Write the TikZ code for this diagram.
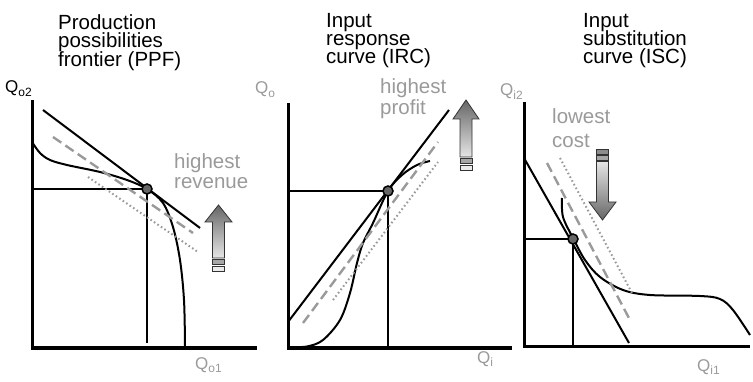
\documentclass[tikz,border=0pt]{standalone}
\usepackage{fontspec}
\setmainfont{Liberation Sans}
\definecolor{lgray}{HTML}{9A9A9A}
\newcommand{\qsub}[1]{\raisebox{-3.5pt}{\fontsize{12}{12}\selectfont #1}}
\begin{document}
\lineskiplimit=-20pt
\begin{tikzpicture}[x=1pt,y=-1pt,
  axis/.style={line width=3pt},
  curve/.style={line width=2pt},
  tangent/.style={line width=2pt},
  dashline/.style={line width=2.4pt, color=lgray, dash pattern=on 10pt off 5pt},
  dotline/.style={line width=2pt, color=lgray, dash pattern=on 1.6pt off 2.6pt},
  guide/.style={line width=2.5pt},
  pt/.style={circle, minimum size=10pt, inner sep=0pt, draw=black, line width=1.5pt, fill=black!60},
  title/.style={font=\fontsize{20.5}{18.4}\selectfont, align=left, anchor=north west, inner sep=0pt},
  glabel/.style={font=\fontsize{20.5}{20.5}\selectfont, text=lgray, align=left, anchor=north west, inner sep=0pt},
  qlab/.style={font=\fontsize{17}{17}\selectfont, anchor=base west, inner sep=0pt},
  arrowbody/.style={draw=black!80, line width=0.8pt},
  bar/.style={draw=black!80, line width=0.8pt}
]
\useasboundingbox (0,0) rectangle (753,382);

% ---------- Panel 1: PPF ----------
\coordinate (y1) at (32,100);
\coordinate (o1) at (32,348);
\coordinate (x1) at (257,348);
\coordinate (c1) at (147,189);
\draw[axis] (y1) -- (o1) -- (x1);
\draw[guide] (32,189) -- (c1) -- (147,343);
\draw[curve] plot[smooth, tension=0.55] coordinates {(32,142) (40,153) (50,160) (67,165) (100,172) (127,180) (147,189) (163,203) (173,227) (180,260) (184,300) (185,346)};
\draw[tangent] (43,110) -- (200,228);
\draw[dashline] (53,137) -- (193,233);
\draw[dotline] (88,177) -- (198,252);
\node[pt] (p1) at (c1) {};
\shadedraw[arrowbody, top color=black!60, bottom color=black!10] (212.5,258) -- (212.5,222) -- (205,222) -- (218.5,205) -- (232,222) -- (224.5,222) -- (224.5,258) -- cycle;
\draw[bar, fill=black!35] (212.5,259.5) rectangle (224.5,264.5);
\draw[bar, fill=black!8] (212.5,266) rectangle (224.5,271);

% ---------- Panel 2: IRC ----------
\coordinate (y2) at (288,103);
\coordinate (o2) at (288,348);
\coordinate (x2) at (512,348);
\coordinate (c2) at (388,191);
\draw[axis] (y2) -- (o2) -- (x2);
\draw[guide] (288,191) -- (c2) -- (388,348);
\draw[curve] plot[smooth, tension=0.55] coordinates {(289,347) (307,346.5) (323,340) (340,320) (350,293) (357,263) (363,243) (373,223) (388,191) (402,175) (417,165) (430,161)};
\draw[tangent] (288,322) -- (449,110);
\draw[dashline] (303,323) -- (438,142);
\draw[dotline] (333,300) -- (438,162);
\node[pt] (p2) at (c2) {};
\shadedraw[arrowbody, top color=black!60, bottom color=black!10] (460,157) -- (460,119) -- (453,119) -- (466,100) -- (479,119) -- (472,119) -- (472,157) -- cycle;
\draw[bar, fill=black!35] (460,158.5) rectangle (472,163.5);
\draw[bar, fill=black!8] (460,165) rectangle (472,170);

% ---------- Panel 3: ISC ----------
\coordinate (y3) at (524,102);
\coordinate (o3) at (524,347);
\coordinate (x3) at (750,347);
\coordinate (c3) at (573,239);
\draw[axis] (y3) -- (o3) -- (x3);
\draw[guide] (524,239) -- (c3) -- (573,347);
\draw[curve] plot[smooth, tension=0.55] coordinates {(562,198) (563,217) (573,238) (585,260) (600,277) (623,290) (650,295) (700,296) (720,299) (733,310) (750,335)};
\draw[tangent] (524,158) -- (629,343);
\draw[dashline] (547,163) -- (630,320);
\draw[dotline] (560,158) -- (632,293);
\node[pt] (p3) at (c3) {};
\shadedraw[arrowbody, top color=black!10, bottom color=black!60] (596.5,161.5) -- (596.5,202) -- (589,202) -- (602.5,220) -- (616,202) -- (608.5,202) -- (608.5,161.5) -- cycle;
\draw[bar, fill=black!35] (596.5,155.5) rectangle (608.5,160.5);
\draw[bar, fill=black!45] (596.5,149.5) rectangle (608.5,154);

% ---------- Texts ----------
\node[title] (t1) at (58,14.2) {Production\\possibilities\\frontier (PPF)};
\node[title] (t2) at (326,12.7) {Input\\response\\curve (IRC)};
\node[title] (t3) at (583,12.7) {Input\\substitution\\curve (ISC)};
\node[glabel] (g1) at (174,153.2) {highest\\revenue};
\node[glabel] (g2) at (380,78.7) {highest\\profit};
\node[glabel, font=\fontsize{20.5}{24}\selectfont] (g3) at (552,108.7) {lowest\\cost};
\node[qlab] (q1y) at (5,93) {Q\qsub{o2}};
\node[qlab, text=lgray] (q1x) at (195,369) {Q\qsub{o1}};
\node[qlab, text=lgray] (q2y) at (255,94) {Q\qsub{o}};
\node[qlab, text=lgray] (q2x) at (477,363) {Q\qsub{i}};
\node[qlab, text=lgray] (q3y) at (500,96) {Q\qsub{i2}};
\node[qlab, text=lgray] (q3x) at (697,371) {Q\qsub{i1}};
\end{tikzpicture}
\end{document}
